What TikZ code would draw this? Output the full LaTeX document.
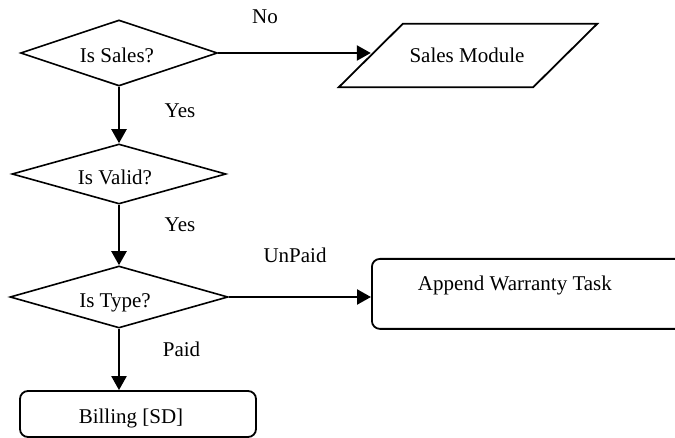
\documentclass[tikz,border=0pt]{standalone}
\usepackage{fontspec}
\setmainfont{Liberation Serif}
\usetikzlibrary{shapes.geometric,arrows.meta}

% text of zero size inside a shape, moved by (dx, dy below centre to baseline)
\newcommand{\inset}[3]{\smash{\makebox[0pt]{\hspace*{#1}\hspace*{#1}\raisebox{-#2}{#3}}}}

\begin{document}
\begin{tikzpicture}[x=1pt,y=-1pt,
  font=\fontsize{21}{25}\selectfont,
  decision/.style={diamond, draw, line width=1.6pt, inner sep=0pt},
  iobody/.style={rectangle, inner sep=0pt},
  ioline/.style={line width=1.8pt, line join=miter},
  taskbox/.style={rectangle, rounded corners=8pt, draw, line width=1.8pt, inner sep=0pt},
  flow/.style={line width=2.3pt, -{Triangle[length=14pt,width=15pt]}},
  cond/.style={anchor=base, inner sep=0pt}]

\path[use as bounding box] (0,0) rectangle (675,438);
\clip (0,0) rectangle (675,438);

% decisions
\node[decision, minimum width=197pt, minimum height=66pt] (d1) at (119,53)
  {\inset{-2pt}{10pt}{Is Sales?}};
\node[decision, minimum width=214pt, minimum height=60pt] (d2) at (119,174)
  {\inset{-4pt}{11pt}{Is Valid?}};
\node[decision, minimum width=218pt, minimum height=62pt] (d3) at (119,297)
  {\inset{-4pt}{11pt}{Is Type?}};

% outcomes: the input/output box is a slanted body round its node
\node[iobody, minimum width=194pt, minimum height=63pt] (sm) at (468,55.5)
  {\inset{-1pt}{7pt}{Sales Module}};
\draw[ioline] ([xshift=32pt]sm.north west) -- ([xshift=32pt]sm.north east)
  -- ([xshift=-32pt]sm.south east) -- ([xshift=-32pt]sm.south west) -- cycle;
\node[taskbox, minimum width=360pt, minimum height=70pt, anchor=north west] (awt) at (371,258)
  {\inset{-37pt}{-3pt}{Append Warranty Task}};
\node[taskbox, minimum width=236pt, minimum height=46pt] (bill) at (138,414)
  {\inset{-7pt}{9pt}{Billing [SD]}};

% connectors
\draw[flow] (d1.east) -- (d1.east -| sm.west);
\draw[flow] (d1.south) -- (d2.north);
\draw[flow] (d2.south) -- (d3.north);
\draw[flow] (d3.east) -- (d3.east -| awt.west);
\draw[flow] (d3.south) -- (d3.south |- bill.north);

% branch conditions
\node[cond] (lno) at (265,24) {No};
\node[cond] (lyes1) at (180,118) {Yes};
\node[cond] (lyes2) at (180,232) {Yes};
\node[cond] (lunpaid) at (295,263) {UnPaid};
\node[cond] (lpaid) at (181.5,357) {Paid};
\end{tikzpicture}
\end{document}
